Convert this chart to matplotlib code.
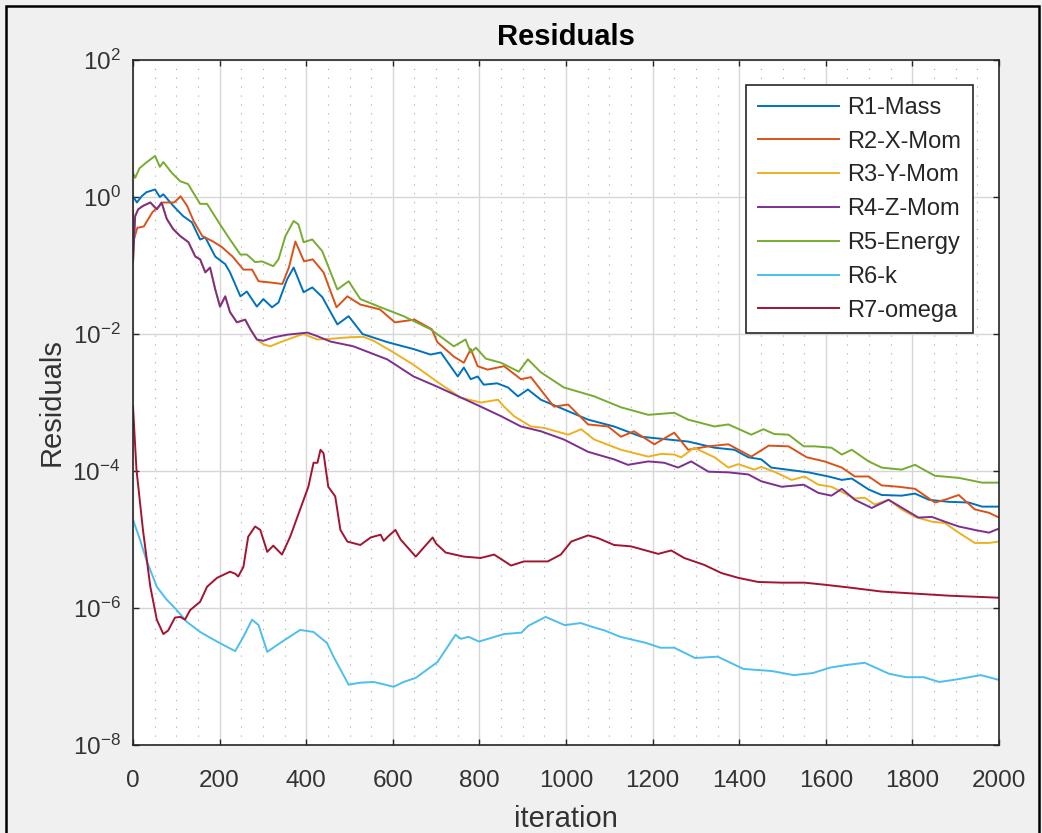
import numpy as np
import matplotlib
matplotlib.use("Agg")
import matplotlib.pyplot as plt
from matplotlib.ticker import MultipleLocator, NullLocator, FixedLocator
from matplotlib.patches import Rectangle

plt.rcParams['font.family'] = ['Liberation Sans', 'DejaVu Sans']
plt.rcParams['mathtext.fontset'] = 'custom'
plt.rcParams['mathtext.rm'] = 'Liberation Sans'
plt.rcParams['mathtext.it'] = 'Liberation Sans:italic'
plt.rcParams['mathtext.bf'] = 'Liberation Sans:bold'
plt.rcParams['axes.unicode_minus'] = False

# residuals, stored as log10(residual)
mass_it = [0, 9, 20, 31, 51, 62, 70, 93, 116, 136, 155, 167, 190, 213, 224, 248, 263, 286, 301, 321, 336, 356, 371, 394, 414, 437, 472, 498, 530, 588, 648, 687, 711, 750, 764, 780, 796, 810, 841, 866, 889, 912, 942, 995, 1051, 1111, 1174, 1236, 1282, 1343, 1389, 1421, 1451, 1474, 1560, 1606, 1637, 1660, 1699, 1729, 1775, 1806, 1838, 1884, 1930, 1961, 2000]
mass_exp = [0.01, -0.08, 0.01, 0.07, 0.11, 0.0, 0.04, -0.13, -0.28, -0.37, -0.62, -0.59, -0.87, -0.98, -1.10, -1.45, -1.38, -1.60, -1.49, -1.61, -1.54, -1.20, -1.03, -1.39, -1.32, -1.46, -1.86, -1.74, -2.0, -2.12, -2.22, -2.30, -2.27, -2.62, -2.49, -2.66, -2.62, -2.74, -2.72, -2.78, -2.91, -2.81, -2.96, -3.10, -3.25, -3.35, -3.50, -3.54, -3.57, -3.66, -3.69, -3.80, -3.83, -3.95, -4.02, -4.08, -4.13, -4.11, -4.27, -4.35, -4.36, -4.33, -4.42, -4.45, -4.46, -4.52, -4.52]

xmom_it = [0, 3, 10, 25, 45, 70, 95, 110, 125, 140, 160, 185, 205, 230, 255, 275, 290, 320, 345, 360, 375, 395, 415, 440, 470, 495, 525, 570, 605, 650, 690, 703, 741, 764, 780, 796, 819, 857, 896, 919, 972, 1005, 1051, 1097, 1127, 1157, 1204, 1250, 1282, 1329, 1375, 1428, 1468, 1514, 1556, 1597, 1637, 1667, 1699, 1729, 1768, 1806, 1852, 1875, 1907, 1944, 1977, 2000]
xmom_exp = [-0.20, -0.60, -0.45, -0.43, -0.22, -0.08, -0.08, 0.01, -0.13, -0.35, -0.57, -0.65, -0.73, -0.87, -1.06, -1.06, -1.23, -1.25, -1.27, -1.03, -0.65, -0.94, -0.91, -1.10, -1.61, -1.45, -1.57, -1.64, -1.83, -1.79, -1.93, -2.12, -2.33, -2.42, -2.22, -2.47, -2.52, -2.47, -2.66, -2.63, -3.06, -3.03, -3.32, -3.35, -3.50, -3.42, -3.61, -3.44, -3.69, -3.64, -3.61, -3.79, -3.63, -3.64, -3.80, -3.86, -3.95, -4.08, -4.08, -4.21, -4.23, -4.26, -4.46, -4.42, -4.35, -4.56, -4.61, -4.68]

ymom_it = [0, 5, 12, 23, 40, 55, 66, 78, 93, 109, 128, 144, 155, 167, 178, 190, 201, 213, 224, 240, 259, 271, 286, 301, 317, 340, 379, 394, 425, 456, 495, 532, 556, 602, 648, 703, 757, 803, 843, 857, 880, 919, 949, 1005, 1035, 1065, 1127, 1190, 1220, 1250, 1266, 1296, 1343, 1375, 1398, 1435, 1451, 1481, 1521, 1551, 1583, 1613, 1667, 1690, 1713, 1745, 1775, 1806, 1845, 1875, 1907, 1944, 1977, 2000]
ymom_exp = [-0.95, -0.28, -0.18, -0.13, -0.08, -0.18, -0.08, -0.32, -0.47, -0.57, -0.66, -0.87, -0.91, -1.10, -1.03, -1.35, -1.60, -1.45, -1.68, -1.83, -1.79, -1.93, -2.08, -2.15, -2.18, -2.12, -2.03, -2.00, -2.08, -2.07, -2.05, -2.04, -2.10, -2.27, -2.45, -2.70, -2.93, -3.00, -2.96, -3.06, -3.20, -3.35, -3.37, -3.47, -3.39, -3.54, -3.69, -3.79, -3.75, -3.76, -3.80, -3.66, -3.80, -3.95, -3.90, -3.98, -3.94, -4.01, -4.13, -4.08, -4.20, -4.23, -4.40, -4.39, -4.49, -4.42, -4.56, -4.67, -4.74, -4.76, -4.90, -5.05, -5.05, -5.03]

zmom_it = [0, 5, 12, 23, 40, 55, 66, 78, 93, 109, 128, 144, 155, 167, 178, 190, 201, 213, 224, 240, 259, 271, 286, 301, 324, 356, 403, 425, 456, 509, 587, 648, 703, 741, 803, 850, 896, 942, 995, 1051, 1111, 1143, 1190, 1227, 1259, 1289, 1329, 1375, 1421, 1451, 1498, 1549, 1583, 1613, 1637, 1667, 1706, 1745, 1782, 1814, 1845, 1875, 1907, 1944, 1977, 2000]
zmom_exp = [-0.95, -0.28, -0.18, -0.13, -0.08, -0.18, -0.08, -0.32, -0.47, -0.57, -0.66, -0.87, -0.91, -1.10, -1.03, -1.35, -1.60, -1.45, -1.68, -1.83, -1.79, -1.93, -2.08, -2.10, -2.05, -2.01, -1.98, -2.03, -2.11, -2.18, -2.37, -2.62, -2.77, -2.88, -3.06, -3.20, -3.35, -3.42, -3.54, -3.72, -3.83, -3.91, -3.86, -3.88, -3.95, -3.86, -4.01, -4.02, -4.05, -4.15, -4.23, -4.20, -4.32, -4.36, -4.26, -4.42, -4.54, -4.42, -4.56, -4.68, -4.67, -4.74, -4.81, -4.86, -4.90, -4.84]

energy_it = [0, 5, 15, 30, 51, 62, 70, 90, 109, 127, 155, 171, 201, 224, 248, 263, 282, 298, 324, 336, 352, 371, 382, 394, 414, 437, 472, 498, 525, 572, 625, 687, 741, 768, 780, 792, 815, 850, 891, 912, 942, 995, 1065, 1127, 1190, 1250, 1282, 1343, 1375, 1428, 1456, 1481, 1514, 1549, 1574, 1613, 1637, 1660, 1699, 1729, 1775, 1806, 1852, 1907, 1961, 2000]
energy_exp = [0.35, 0.28, 0.42, 0.50, 0.60, 0.44, 0.51, 0.35, 0.23, 0.19, -0.10, -0.10, -0.40, -0.62, -0.84, -0.84, -0.95, -0.94, -1.01, -0.91, -0.57, -0.35, -0.40, -0.66, -0.62, -0.79, -1.35, -1.23, -1.49, -1.61, -1.74, -1.93, -2.18, -2.08, -2.27, -2.20, -2.36, -2.42, -2.55, -2.37, -2.56, -2.78, -2.91, -3.07, -3.18, -3.15, -3.25, -3.35, -3.32, -3.47, -3.39, -3.46, -3.47, -3.64, -3.64, -3.66, -3.76, -3.69, -3.86, -3.95, -3.98, -3.91, -4.07, -4.10, -4.17, -4.17]

k_it = [0, 16, 31, 55, 78, 101, 124, 155, 194, 236, 255, 275, 290, 310, 340, 386, 417, 448, 463, 498, 525, 556, 602, 625, 653, 703, 745, 757, 775, 799, 857, 897, 913, 953, 997, 1034, 1058, 1090, 1125, 1185, 1218, 1250, 1298, 1350, 1410, 1475, 1526, 1570, 1610, 1650, 1690, 1746, 1785, 1826, 1862, 1905, 1958, 2000]
k_exp = [-4.71, -5.00, -5.30, -5.69, -5.88, -6.03, -6.20, -6.35, -6.49, -6.63, -6.42, -6.17, -6.25, -6.64, -6.51, -6.32, -6.35, -6.51, -6.71, -7.12, -7.09, -7.08, -7.15, -7.08, -7.02, -6.79, -6.39, -6.45, -6.42, -6.49, -6.38, -6.36, -6.26, -6.13, -6.25, -6.22, -6.27, -6.33, -6.42, -6.51, -6.58, -6.58, -6.73, -6.71, -6.89, -6.92, -6.98, -6.95, -6.87, -6.83, -6.80, -6.96, -7.01, -7.01, -7.08, -7.04, -6.98, -7.05]

omega_it = [0, 8, 23, 40, 55, 70, 81, 97, 109, 120, 132, 155, 171, 194, 224, 236, 243, 255, 266, 282, 294, 310, 324, 344, 363, 386, 405, 417, 426, 433, 440, 451, 467, 479, 495, 525, 549, 572, 579, 590, 606, 618, 653, 692, 700, 722, 764, 803, 834, 873, 903, 958, 988, 1012, 1051, 1074, 1111, 1150, 1213, 1243, 1273, 1319, 1359, 1398, 1444, 1498, 1551, 1597, 1653, 1729, 1806, 1884, 2000]
omega_exp = [-3.06, -3.98, -4.86, -5.69, -6.17, -6.38, -6.33, -6.14, -6.13, -6.17, -6.03, -5.91, -5.69, -5.56, -5.47, -5.50, -5.54, -5.40, -4.96, -4.81, -4.86, -5.18, -5.09, -5.22, -4.96, -4.56, -4.23, -3.88, -3.88, -3.69, -3.74, -4.23, -4.37, -4.86, -5.03, -5.08, -4.97, -4.93, -5.02, -4.95, -4.86, -5.00, -5.25, -4.97, -5.06, -5.19, -5.25, -5.27, -5.22, -5.38, -5.32, -5.32, -5.22, -5.03, -4.94, -4.98, -5.08, -5.10, -5.21, -5.16, -5.27, -5.37, -5.49, -5.56, -5.62, -5.63, -5.63, -5.66, -5.70, -5.76, -5.79, -5.82, -5.85]

labels = ['R1-Mass', 'R2-X-Mom', 'R3-Y-Mom', 'R4-Z-Mom', 'R5-Energy', 'R6-k', 'R7-omega']
colors = ['#0072BD', '#D95319', '#EDB120', '#7E2F8E', '#77AC30', '#4DBEEE', '#A2142F']
series = [(mass_it, mass_exp), (xmom_it, xmom_exp), (ymom_it, ymom_exp), (zmom_it, zmom_exp),
          (energy_it, energy_exp), (k_it, k_exp), (omega_it, omega_exp)]

fig = plt.figure(figsize=(10.42, 8.33), dpi=100, facecolor='#f0f0f0')
ax = fig.add_axes([133/1042, 1-745/833, 866/1042, 685/833])
ax.set_facecolor('white')

for (it, ex), lab, c in zip(series, labels, colors):
    ax.plot(it, 10.0 ** np.array(ex), color=c, lw=1.4, label=lab)

ax.set_yscale('log')
ax.set_xlim(0, 2000)
ax.set_ylim(1e-8, 1e2)
ax.xaxis.set_major_locator(MultipleLocator(200))
ax.xaxis.set_minor_locator(MultipleLocator(50))
ax.yaxis.set_major_locator(FixedLocator([1e-8, 1e-6, 1e-4, 1e-2, 1e0, 1e2]))
ax.yaxis.set_minor_locator(NullLocator())

ax.set_axisbelow(True)
ax.grid(which='major', color='#d6d6d6', lw=1.0, ls='-')
ax.grid(which='minor', axis='x', color='#a8a8a8', lw=0.8, ls=(0, (1, 7)))

ax.tick_params(which='major', direction='in', length=4.5, width=1.0, color='#262626',
               top=True, right=True, labelsize=17.5, labelcolor='#333333', pad=9)
ax.tick_params(axis='x', which='major', pad=18)
ax.tick_params(which='minor', length=0, top=True, right=True)
for s in ax.spines.values():
    s.set_color('#262626')
    s.set_linewidth(1.2)

ax.set_title('Residuals', fontsize=21, fontweight='bold', color='black', pad=11)
ax.set_xlabel('iteration', fontsize=21, color='#333333')
ax.set_ylabel('Residuals', fontsize=21, color='#333333')
ax.xaxis.set_label_coords(0.5, -0.088)
ax.yaxis.set_label_coords(-0.078, 0.5)

leg = ax.legend(loc='upper right', bbox_to_anchor=(973/1042, 1-85/833), bbox_transform=fig.transFigure,
                borderaxespad=0, fontsize=17, handlelength=3.45, handletextpad=0.35,
                labelspacing=0.5, borderpad=0.5, fancybox=False, framealpha=1)
leg.get_frame().set_edgecolor('#262626')
leg.get_frame().set_linewidth(1.2)
for t in leg.get_texts():
    t.set_color('#262626')

fig.add_artist(Rectangle((6/1042, -0.05), (1039-6)/1042, 1.05-6/833, transform=fig.transFigure,
                         fill=False, edgecolor='black', lw=1.8))

fig.savefig('out.png', dpi=100, facecolor=fig.get_facecolor())
